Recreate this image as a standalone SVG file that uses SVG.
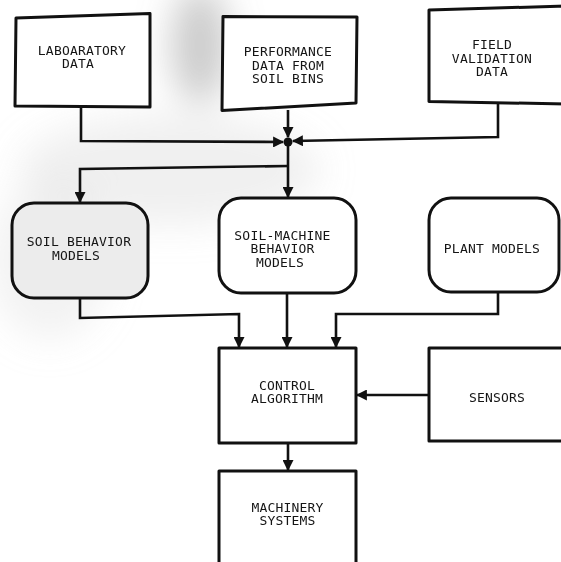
<svg xmlns="http://www.w3.org/2000/svg" width="561" height="562" viewBox="0 0 561 562">
  <style>
    .box { fill: #fff; stroke: #111; stroke-width: 3; stroke-linejoin: round; }
    .grey { fill: #ececec; }
    .wire { fill: none; stroke: #111; stroke-width: 2.6; }
    .lbl { font-family: "DejaVu Sans Mono", "Liberation Mono", monospace; font-size: 13px; letter-spacing: 0.2px; fill: #151515; text-anchor: middle; }
  </style>
  <defs>
    <marker id="arrow" viewBox="0 0 10 10" refX="9" refY="5" markerWidth="11" markerHeight="11" markerUnits="userSpaceOnUse" orient="auto">
      <path d="M0,0 L10,5 L0,10 z" fill="#111"/>
    </marker>
    <filter id="haze" x="-50%" y="-50%" width="200%" height="200%">
      <feGaussianBlur stdDeviation="18"/>
    </filter>
  </defs>

  <rect width="561" height="562" fill="#fff"/>

  <!-- faint grey smear across the upper left of the sheet -->
  <g id="smear" filter="url(#haze)">
    <ellipse cx="200" cy="45" rx="28" ry="60" fill="#8a8a8a" opacity="0.45"/>
    <ellipse cx="170" cy="170" rx="150" ry="55" fill="#cccccc" opacity="0.3"/>
    <ellipse cx="50" cy="260" rx="60" ry="80" fill="#d4d4d4" opacity="0.3"/>
  </g>

  <!-- connectors -->
  <g id="connectors">
    <path class="wire" d="M81,107 V141 L283,142" marker-end="url(#arrow)"/>
    <path class="wire" d="M498,103 V137 L293,141" marker-end="url(#arrow)"/>
    <path class="wire" d="M288,110 V137" marker-end="url(#arrow)"/>
    <path class="wire" d="M288,142 V197" marker-end="url(#arrow)"/>
    <path class="wire" d="M288,166 L80,169 V202" marker-end="url(#arrow)"/>
    <circle cx="288" cy="142" r="4.5" fill="#111"/>
    <path class="wire" d="M80,298 V318 L239,314 V347" marker-end="url(#arrow)"/>
    <path class="wire" d="M287,293 V347" marker-end="url(#arrow)"/>
    <path class="wire" d="M498,292 V314 H336 V347" marker-end="url(#arrow)"/>
    <path class="wire" d="M429,395 H357" marker-end="url(#arrow)"/>
    <path class="wire" d="M288,443 V470" marker-end="url(#arrow)"/>
  </g>

  <g id="laboratory-data">
    <path class="box" d="M16,18 L150,13.5 L150,107 L15,106 Z"/>
    <text class="lbl" x="82" y="54.5">LABOARATORY</text>
    <text class="lbl" x="78" y="68">DATA</text>
  </g>

  <g id="soil-bin-data">
    <path class="box" d="M223,16.5 L357,17 L356,103 L222,110.5 Z"/>
    <text class="lbl" x="288" y="56.2">PERFORMANCE</text>
    <text class="lbl" x="288" y="69.7">DATA FROM</text>
    <text class="lbl" x="288" y="83.2">SOIL BINS</text>
  </g>

  <g id="field-data">
    <path class="box" d="M429,10 L566,6 L566,104 L429,101.5 Z"/>
    <text class="lbl" x="492" y="49">FIELD</text>
    <text class="lbl" x="492" y="62.5">VALIDATION</text>
    <text class="lbl" x="492" y="76">DATA</text>
  </g>

  <g id="soil-behavior-models">
    <rect class="box grey" x="12" y="203" width="136" height="95" rx="22"/>
    <text class="lbl" x="79" y="246">SOIL BEHAVIOR</text>
    <text class="lbl" x="76" y="259.5">MODELS</text>
  </g>

  <g id="soil-machine-models">
    <rect class="box" x="219" y="198" width="137" height="95" rx="22"/>
    <text class="lbl" x="282.5" y="239.5">SOIL-MACHINE</text>
    <text class="lbl" x="282.5" y="253">BEHAVIOR</text>
    <text class="lbl" x="280" y="266.5">MODELS</text>
  </g>

  <g id="plant-models">
    <rect class="box" x="429" y="198" width="130" height="94" rx="22"/>
    <text class="lbl" x="492" y="253">PLANT MODELS</text>
  </g>

  <g id="control-algorithm">
    <rect class="box" x="219" y="348" width="137" height="95"/>
    <text class="lbl" x="287" y="389.5">CONTROL</text>
    <text class="lbl" x="287" y="403">ALGORITHM</text>
  </g>

  <g id="sensors">
    <rect class="box" x="429" y="348" width="140" height="93"/>
    <text class="lbl" x="497" y="402">SENSORS</text>
  </g>

  <g id="machinery-systems">
    <rect class="box" x="219" y="471" width="137" height="100"/>
    <text class="lbl" x="287.5" y="511.5">MACHINERY</text>
    <text class="lbl" x="287.5" y="525">SYSTEMS</text>
  </g>
</svg>
